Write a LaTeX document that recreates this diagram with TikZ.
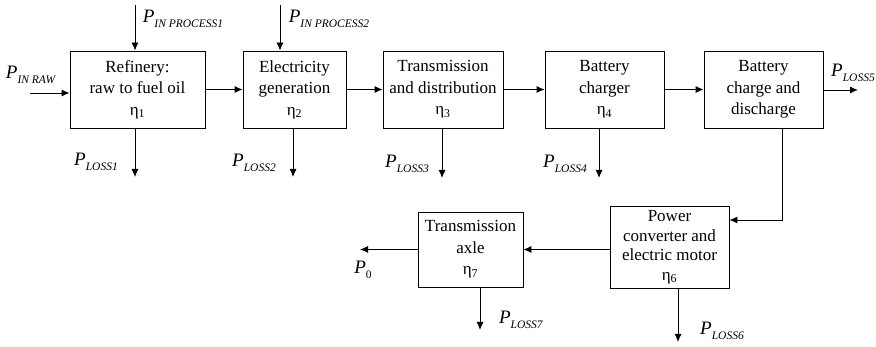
\documentclass[tikz,border=0pt]{standalone}
\usepackage{fontspec}
\setmainfont{Liberation Serif}
\usetikzlibrary{arrows.meta}
\newcommand{\pw}[1]{\textit{P}\raisebox{-5pt}{\fontsize{11.5}{12}\selectfont\textit{#1}}}
\newcommand{\eff}[1]{η\textsubscript{#1}}

\begin{document}
\begin{tikzpicture}[x=1pt, y=-1pt, font=\fontsize{17}{21.5}\selectfont,
  blk/.style={draw, line width=0.9pt, align=center, inner sep=0pt, minimum height=77},
  flow/.style={line width=0.9pt, -{Latex[length=8pt,width=7pt]}},
  lbl/.style={inner sep=0pt, font=\fontsize{19}{21}\selectfont}]
\useasboundingbox (0,0) rectangle (876,347);
% upper chain
\node[blk, minimum width=135] (ref) at (137.5,89.5) {Refinery:\\raw to fuel oil\\\eff{1}};
\node[blk, minimum width=103] (gen) at (294.5,89.5) {Electricity\\generation\\\eff{2}};
\node[blk, minimum width=120] (td) at (443,89.5) {Transmission\\and distribution\\\eff{3}};
\node[blk, minimum width=119] (chg) at (604.5,89.5) {Battery\\charger\\\eff{4}};
\node[blk, minimum width=119] (bat) at (763.5,89.5) {Battery\\charge and\\discharge};
% lower chain
\node[blk, minimum width=119, minimum height=82, font=\fontsize{17}{19.5}\selectfont] (pc) at (669.5,247) {Power\\converter and\\electric motor\\\eff{6}};
\node[blk, minimum width=105, minimum height=75] (tx) at (470.5,249.5) {Transmission\\axle\\\eff{7}};

\draw[flow] (ref) -- (gen);
\draw[flow] (gen) -- (td);
\draw[flow] (td) -- (chg);
\draw[flow] (chg) -- (bat);
\coordinate (bend) at (782,220);
\draw[flow] (bend |- bat.south) -- (bend) -- (bend -| pc.east);
\draw[flow] (pc.west |- tx.east) -- (tx.east);

% inputs and output
\coordinate (raw) at (30,93);
\coordinate (in1) at (135,5);
\coordinate (in2) at (280,5);
\coordinate (out5) at (858,90);
\coordinate (out0) at (360,249.5);
\draw[flow] (raw) -- (raw -| ref.west);
\draw[flow] (in1) -- (in1 |- ref.north);
\draw[flow] (in2) -- (in2 |- gen.north);
\draw[flow] (out5 -| bat.east) -- (out5);
\draw[flow] (tx.west) -- (out0);

% losses
\foreach \b/\n/\x/\y in {ref/1/135/177, gen/2/293/177, td/3/442/178, chg/4/599/178, pc/6/678/342, tx/7/480/330}
  {\coordinate (loss\n) at (\x,\y);
   \draw[flow] (loss\n |- \b.south) -- (loss\n);}

\node[lbl] (lraw) at (31,75) {\pw{IN RAW}};
\node[lbl] (lin1) at (183,19) {\pw{IN PROCESS1}};
\node[lbl] (lin2) at (329,19) {\pw{IN PROCESS2}};
\node[lbl] (ll1) at (96,162) {\pw{LOSS1}};
\node[lbl] (ll2) at (254,163) {\pw{LOSS2}};
\node[lbl] (ll3) at (407,164) {\pw{LOSS3}};
\node[lbl] (ll4) at (565,164) {\pw{LOSS4}};
\node[lbl] (ll5) at (853,73) {\pw{LOSS5}};
\node[lbl] (ll6) at (722,331) {\pw{LOSS6}};
\node[lbl] (ll7) at (521,320) {\pw{LOSS7}};
\node[lbl] (l0) at (363,270) {\textit{P}\raisebox{-5pt}{\fontsize{11.5}{12}\selectfont 0}};
\end{tikzpicture}
\end{document}
